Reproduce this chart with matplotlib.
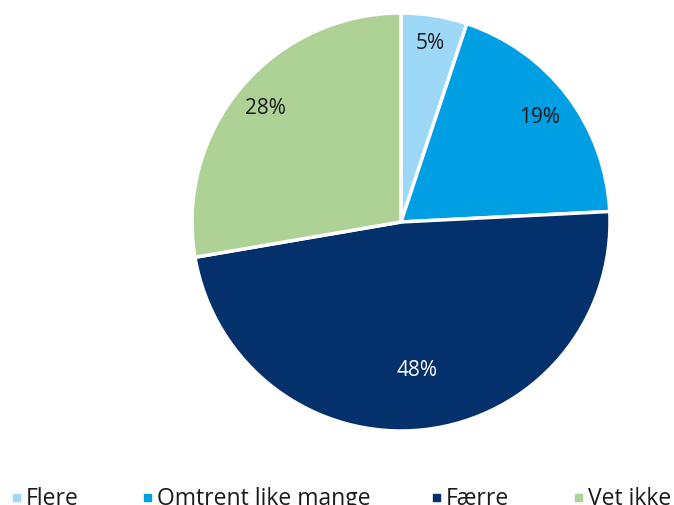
import matplotlib
matplotlib.use("Agg")
import matplotlib.pyplot as plt
import numpy as np
from matplotlib.patches import Rectangle

categories = ["Flere", "Omtrent like mange", "Færre", "Vet ikke"]
values = [5.1, 19.1, 48.1, 27.7]
colors = ["#9dd8f7", "#009ee3", "#04306b", "#aed196"]
label_colors = ["#1a1a1a", "#1a1a1a", "#ffffff", "#1a1a1a"]
label_dist = [0.87, 0.83, 0.71, 0.85]

FONT = "Open Sans"
W, H = 674, 506
fig = plt.figure(figsize=(W / 100, H / 100), dpi=100)
cx, cy, R = 401, 223, 209
ax = fig.add_axes([(cx - R) / W, (H - cy - R) / H, 2 * R / W, 2 * R / H])

wedges, _ = ax.pie(values, colors=colors, startangle=90, counterclock=False,
                   radius=1, wedgeprops=dict(edgecolor="white", linewidth=2.5))
ax.set_xlim(-1, 1)
ax.set_ylim(-1, 1)
ax.set_aspect("auto")
ax.axis("off")
for w, v, c, d in zip(wedges, values, label_colors, label_dist):
    ang = np.deg2rad((w.theta1 + w.theta2) / 2)
    ax.text(d * np.cos(ang), d * np.sin(ang), f"{v:.0f}%", ha="center", va="center",
            color=c, fontsize=15, family=FONT)

# legend
leg_x = [13, 144, 433, 575]
for x, lab, col in zip(leg_x, categories, colors):
    fig.patches.append(Rectangle((x / W, (H - 502) / H), 7 / W, 7 / H,
                                 transform=fig.transFigure, color=col))
    fig.text((x + 13) / W, (H - 499) / H, lab, ha="left", va="center",
             fontsize=16.5, family=FONT, color="#1a1a1a")

fig.savefig("out.png", dpi=100)
